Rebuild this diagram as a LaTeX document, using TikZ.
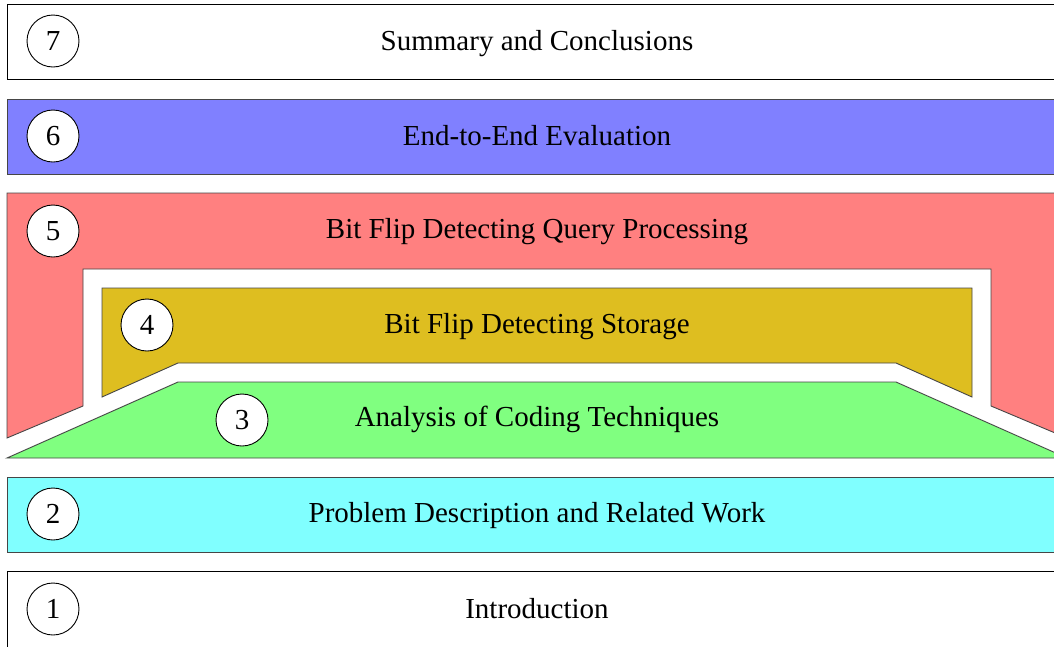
\documentclass[tikz,border=0pt]{standalone}
\usepackage{fontspec}
\setmainfont{Liberation Serif}
\definecolor{layerred}{RGB}{255,128,128}
\definecolor{layerblue}{RGB}{128,128,255}
\definecolor{layergreen}{RGB}{128,255,128}
\definecolor{layercyan}{RGB}{128,255,255}
\definecolor{layergold}{RGB}{222,190,32}
\definecolor{edgegray}{RGB}{70,70,70}
\tikzset{
  layer/.style={draw=edgegray, line width=0.9pt, line join=miter},
  title/.style={font=\fontsize{29}{32}\selectfont, inner sep=0pt, anchor=base},
  badge/.style={circle, draw=black, fill=white, line width=0.9pt, minimum size=52pt, inner sep=0pt, font=\fontsize{29}{32}\selectfont}
}
\begin{document}
\begin{tikzpicture}[x=1pt, y=-1pt]
\useasboundingbox (0,0) rectangle (1054,646);
\begin{scope}
\clip (0,0) rectangle (1054,646);
% chapter layers, bottom to top
\draw[layer, draw=black, fill=white] (7,571) rectangle (1067,660);
\draw[layer, fill=layercyan] (7,477) rectangle (1067,552);
\draw[layer, fill=layergreen] (178,382) -- (896,382) -- (1067,458) -- (7,458) -- cycle;
\draw[layer, fill=layergold] (102,288) -- (972,288) -- (972,397) -- (896,363) -- (178,363) -- (102,397) -- cycle;
\draw[layer, fill=layerred] (7,193) -- (1067,193) -- (1067,438) -- (991,406) -- (991,269) -- (83,269) -- (83,406) -- (7,438) -- cycle;
\draw[layer, fill=layerblue] (7,99) rectangle (1067,174);
\draw[layer, draw=black, fill=white] (7,4) rectangle (1067,79);
\end{scope}
% chapter titles, placed on their baselines
\node[title] (t7) at (537,50) {Summary and Conclusions};
\node[title] (t6) at (537,145) {End-to-End Evaluation};
\node[title] (t5) at (537,238) {Bit Flip Detecting Query Processing};
\node[title] (t4) at (537,333) {Bit Flip Detecting Storage};
\node[title] (t3) at (537,426) {Analysis of Coding Techniques};
\node[title] (t2) at (537,522) {Problem Description and Related Work};
\node[title] (t1) at (537,618) {Introduction};
% chapter numbers
\node[badge] (n7) at (53,41) {7};
\node[badge] (n6) at (53,136) {6};
\node[badge] (n5) at (53,231) {5};
\node[badge] (n4) at (147,325) {4};
\node[badge] (n3) at (242,420) {3};
\node[badge] (n2) at (53,514) {2};
\node[badge] (n1) at (53,609) {1};
\end{tikzpicture}
\end{document}
